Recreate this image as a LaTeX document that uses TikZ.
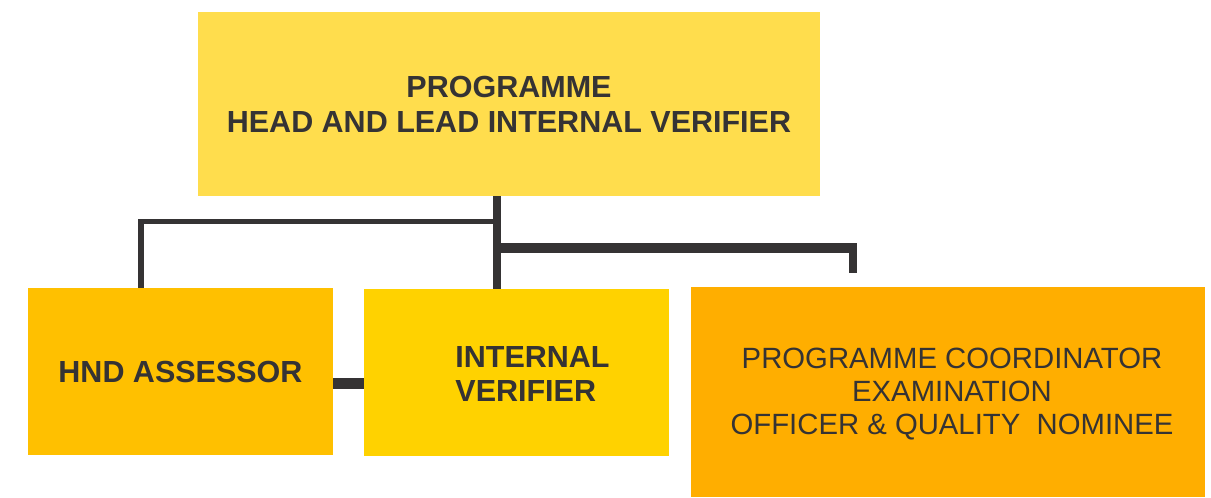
\documentclass[tikz,border=0pt]{standalone}
\usepackage{fontspec}
\setmainfont{Liberation Sans}
\usetikzlibrary{positioning}
\definecolor{headyellow}{HTML}{FFDD4D}
\definecolor{hndamber}{HTML}{FFC000}
\definecolor{ivyellow}{HTML}{FFD200}
\definecolor{pcorange}{HTML}{FFAE00}
\definecolor{linkgrey}{HTML}{353334}
\begin{document}
\begin{tikzpicture}[x=1pt,y=-1pt,
		box/.style={inner sep=0pt, text=linkgrey, align=center, font=\fontsize{29.3}{33}\selectfont},
		boldbox/.style={box, font=\fontsize{30.5}{35}\selectfont\bfseries},
		link/.style={draw=linkgrey, line cap=butt}]
			\useasboundingbox (0,0) rectangle (1211,498);
			% boxes
			\node [boldbox, fill=headyellow, minimum width=622pt, minimum height=184pt] (head) at (509,104) {PROGRAMME\\HEAD AND LEAD INTERNAL VERIFIER};
			\node [boldbox, fill=hndamber, minimum width=305pt, minimum height=167pt] (hnd) at (180.5,371.5) {HND ASSESSOR};
			\node [box, fill=ivyellow, minimum width=305pt, minimum height=167pt] (iv) at (516.5,372.5) {};
			\node [boldbox, align=left, font=\fontsize{30.5}{34}\selectfont\bfseries] (ivtext) at (532.5,374) {INTERNAL\\VERIFIER};
			\node [box, fill=pcorange, minimum width=514pt, minimum height=210pt] (pc) at (948,392) {};
			\node [box] (pctext) at (952,394) {PROGRAMME COORDINATOR\\EXAMINATION\\OFFICER \& QUALITY\ \ NOMINEE};
			% connectors
			\coordinate (splitl) at (497,221.5);
			\coordinate (splitr) at (497,248);
			\coordinate (pcend) at (853,273);
			\draw [link, line width=8pt] (497,196) -- (497,289);
			\draw [link, line width=5.5pt, line join=miter] (splitl) -| (hnd.north -| 141,0);
			\draw [link, line width=10pt] (splitr) -- (857,248);
			\draw [link, line width=8pt] (853,243) -- (pcend);
			\draw [link, line width=11pt] (hnd.east |- 0,383.5) -- (iv.west |- 0,383.5);
		\end{tikzpicture}
\end{document}
